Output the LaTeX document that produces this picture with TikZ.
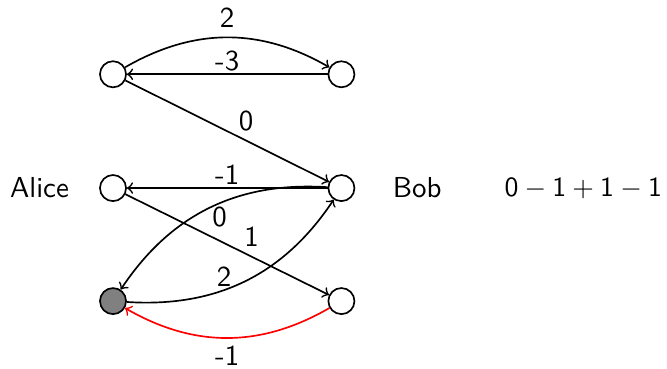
\documentclass[tikz,border=0pt]{standalone}
\usetikzlibrary{arrows, positioning}
\renewcommand{\familydefault}{\sfdefault}

\begin{document}
\begin{tikzpicture}[
    vertex/.style={circle, draw, semithick, minimum size=0.33cm, inner sep=0pt},
    wlabel/.style={inner sep=1pt},
    every node/.style={font=\fontsize{10.4pt}{12.5pt}\selectfont},
    every path/.style={semithick}
  ]
  \useasboundingbox (0,0) rectangle (8.44,-4.66);

  % Alice side
  \node[vertex] (a1) at (1.43,-0.94) {};
  \node[vertex] (a2) at (1.43,-2.38) {};
  \node[vertex, fill=gray] (a3) at (1.43,-3.81) {};

  % Bob side
  \node[vertex] (b1) at (4.32,-0.94) {};
  \node[vertex] (b2) at (4.32,-2.38) {};
  \node[vertex] (b3) at (4.32,-3.81) {};

  % Names and sum
  \node (alice) at (0.5,-2.38) {Alice};
  \node (bob) at (5.28,-2.38) {Bob};
  \node (sum) at (7.38,-2.38) {$\mathsf{0-1+1-1}$};

  % Edges
  \draw[->] (a1) to[bend left=30] node[above] {2} (b1);
  \draw[->] (b1) -- node[above, wlabel] {-3} (a1);
  \draw[->] (a1) -- node[pos=0.54, above right, wlabel] {0} (b2);
  \draw[->] (b2) -- node[above, wlabel] {-1} (a2);
  \draw[->] (b2) to[bend right=30] node[pos=0.45, below, wlabel] {0} (a3);
  \draw[->] (a3) to[bend right=30] node[pos=0.40, above, wlabel] {2} (b2);
  \draw[->] (a2) -- node[pos=0.62, above] {1} (b3);
  \draw[->, red] (b3) to[bend left=30] node[below, black, inner sep=2.5pt] {-1} (a3);
\end{tikzpicture}
\end{document}
